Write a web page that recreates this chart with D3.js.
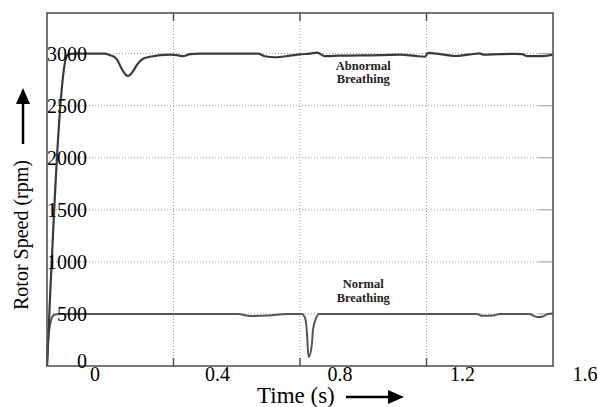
<!DOCTYPE html>
<html>
<head>
<meta charset="utf-8">
<script src="https://cdn.jsdelivr.net/npm/d3@7"></script>
<style>
  body { margin: 0; background: #fff; }
  svg { display: block; }
  text { font-family: "Liberation Serif", "Times New Roman", serif; fill: #000; }
</style>
</head>
<body>
<svg id="chart"></svg>
<script>
// values
let vTimeTicks = [0, 0.4, 0.8, 1.2, 1.6]
let vSpeedTicks = [0, 500, 1000, 1500, 2000, 2500, 3000]

let vAbnormalT = [0, 0.060, 0.066, 0.089, 0.183, 0.199, 0.209, 0.221, 0.237, 0.256, 0.272, 0.285, 0.304, 0.326,
  0.389, 0.411, 0.430, 0.452, 0.484, 0.667, 0.689, 0.721, 0.768, 0.800, 0.832, 0.854, 0.879, 0.926, 1.053,
  1.116, 1.164, 1.195, 1.205, 1.243, 1.290, 1.338, 1.369, 1.379, 1.432, 1.480, 1.502, 1.518, 1.559, 1.600]
let vAbnormalRpm = [0, 2955, 2990, 3000, 3000, 2985, 2975, 2945, 2850, 2785, 2830, 2895, 2950, 2970,
  2990, 2985, 2975, 2995, 3000, 3000, 2975, 2965, 2980, 2993, 3000, 3010, 2975, 2980, 2985,
  2990, 2978, 2970, 3008, 2995, 2977, 2993, 3002, 2990, 2995, 2998, 2996, 2975, 2975, 2990]

let vNormalT = [0, 0.004, 0.010, 0.016, 0.025, 0.040, 0.604, 0.642, 0.700, 0.759, 0.806, 0.816, 0.822, 0.825,
  0.828, 0.838, 0.841, 0.851, 0.860, 0.873, 1.360, 1.375, 1.410, 1.432, 1.474, 1.527, 1.537, 1.553, 1.568, 1.584, 1.600]
let vNormalRpm = [0, 250, 400, 470, 495, 500, 500, 480, 485, 500, 500, 461, 317, 154,
  86, 221, 346, 461, 500, 500, 500, 483, 485, 500, 500, 500, 485, 470, 475, 500, 505]

let vWidth = 598
let vHeight = 407
let vMargin = { top: 13, right: 45, bottom: 41, left: 47 }

let svg = d3.select('#chart')
  .attr('width', vWidth)
  .attr('height', vHeight)

let x = d3.scaleLinear()
  .domain([0, 1.6])
  .range([vMargin.left, vWidth - vMargin.right])

let y = d3.scaleLinear()
  .domain([0, 3390])
  .range([vHeight - vMargin.bottom, vMargin.top])

// tick labels in the source sit shifted from their grid lines
let xLabel = d3.scaleLinear()
  .domain([0, 1.6])
  .range([95, 585])

let x0 = x.range()[0], x1 = x.range()[1]
let y0 = y.range()[0], y1 = y.range()[1]

// dotted grid
svg.append('g')
  .selectAll('line')
  .data(vSpeedTicks.filter((d) => d > 0))
  .enter()
  .append('line')
  .attr('x1', x0)
  .attr('x2', x1 - 15)
  .attr('y1', (d) => y(d))
  .attr('y2', (d) => y(d))
  .style('stroke', '#9a9a9a')
  .style('stroke-width', 1)
  .style('stroke-dasharray', '1,2')

svg.append('g')
  .selectAll('line')
  .data(vTimeTicks.slice(1, -1))
  .enter()
  .append('line')
  .attr('x1', (d) => x(d))
  .attr('x2', (d) => x(d))
  .attr('y1', y1)
  .attr('y2', y0)
  .style('stroke', '#9a9a9a')
  .style('stroke-width', 1)
  .style('stroke-dasharray', '1,2')

// right side ticks
svg.append('g')
  .selectAll('line')
  .data(vSpeedTicks.filter((d) => d > 0))
  .enter()
  .append('line')
  .attr('x1', x1 - 15)
  .attr('x2', x1)
  .attr('y1', (d) => y(d))
  .attr('y2', (d) => y(d))
  .style('stroke', '#aaa')
  .style('stroke-width', 1.2)

// top and bottom ticks
let vTopBottom = vTimeTicks.slice(1, -1)
svg.append('g')
  .selectAll('line')
  .data(vTopBottom)
  .enter()
  .append('line')
  .attr('x1', (d) => x(d))
  .attr('x2', (d) => x(d))
  .attr('y1', y1)
  .attr('y2', y1 + 8)
  .style('stroke', '#444')
  .style('stroke-width', 1.4)

svg.append('g')
  .selectAll('line')
  .data(vTopBottom)
  .enter()
  .append('line')
  .attr('x1', (d) => x(d))
  .attr('x2', (d) => x(d))
  .attr('y1', y0 - 8)
  .attr('y2', y0)
  .style('stroke', '#444')
  .style('stroke-width', 1.4)

let vLine = d3.line()
  .x((d) => x(d[0]))
  .y((d) => y(d[1]))
  .curve(d3.curveMonotoneX)

svg.append('path')
  .datum(d3.zip(vNormalT, vNormalRpm))
  .attr('d', vLine)
  .style('fill', 'none')
  .style('stroke', '#555')
  .style('stroke-width', 2)

svg.append('path')
  .datum(d3.zip(vAbnormalT, vAbnormalRpm))
  .attr('d', vLine)
  .style('fill', 'none')
  .style('stroke', '#3a3a3a')
  .style('stroke-width', 2.2)

// plot frame
svg.append('rect')
  .attr('x', x0)
  .attr('y', y1)
  .attr('width', x1 - x0)
  .attr('height', y0 - y1)
  .style('fill', 'none')
  .style('stroke', '#555')
  .style('stroke-width', 1.6)

// curve labels
let vNotes = [
  { t: 1.0, rpm: 2845, lines: ['Abnormal', 'Breathing'], gap: 13 },
  { t: 1.0, rpm: 745, lines: ['Normal', 'Breathing'], gap: 13.5 }
]
vNotes.forEach((n) => {
  svg.append('g')
    .selectAll('text')
    .data(n.lines)
    .enter()
    .append('text')
    .attr('x', x(n.t))
    .attr('y', (d, i) => y(n.rpm) + i * n.gap)
    .attr('text-anchor', 'middle')
    .style('font-size', '12.5px')
    .style('font-weight', 'bold')
    .style('fill', '#222')
    .text((d) => d)
})

// tick labels
svg.append('g')
  .selectAll('text')
  .data(vSpeedTicks)
  .enter()
  .append('text')
  .attr('x', 87)
  .attr('y', (d) => Math.min(y(d), y0 - 5))
  .attr('dy', '0.35em')
  .attr('text-anchor', 'end')
  .style('font-size', '20px')
  .text((d) => d)

svg.append('g')
  .selectAll('text')
  .data(vTimeTicks)
  .enter()
  .append('text')
  .attr('x', (d) => xLabel(d))
  .attr('y', 381)
  .attr('text-anchor', 'middle')
  .style('font-size', '20px')
  .text((d) => d)

// axis titles with arrows
svg.append('text')
  .attr('transform', 'translate(28, 235) rotate(-90)')
  .attr('text-anchor', 'middle')
  .style('font-size', '20px')
  .text('Rotor Speed (rpm)')

svg.append('line')
  .attr('x1', 23).attr('x2', 23)
  .attr('y1', 144).attr('y2', 100)
  .style('stroke', '#000')
  .style('stroke-width', 2.5)
svg.append('path')
  .attr('d', 'M23,88 L30,104 L16,104 Z')
  .style('fill', '#000')

svg.append('text')
  .attr('x', 257)
  .attr('y', 403)
  .style('font-size', '23px')
  .text('Time (s)')

svg.append('line')
  .attr('x1', 346).attr('x2', 390)
  .attr('y1', 397).attr('y2', 397)
  .style('stroke', '#000')
  .style('stroke-width', 2.5)
svg.append('path')
  .attr('d', 'M404,397 L388,390 L388,404 Z')
  .style('fill', '#000')
</script>
</body>
</html>
